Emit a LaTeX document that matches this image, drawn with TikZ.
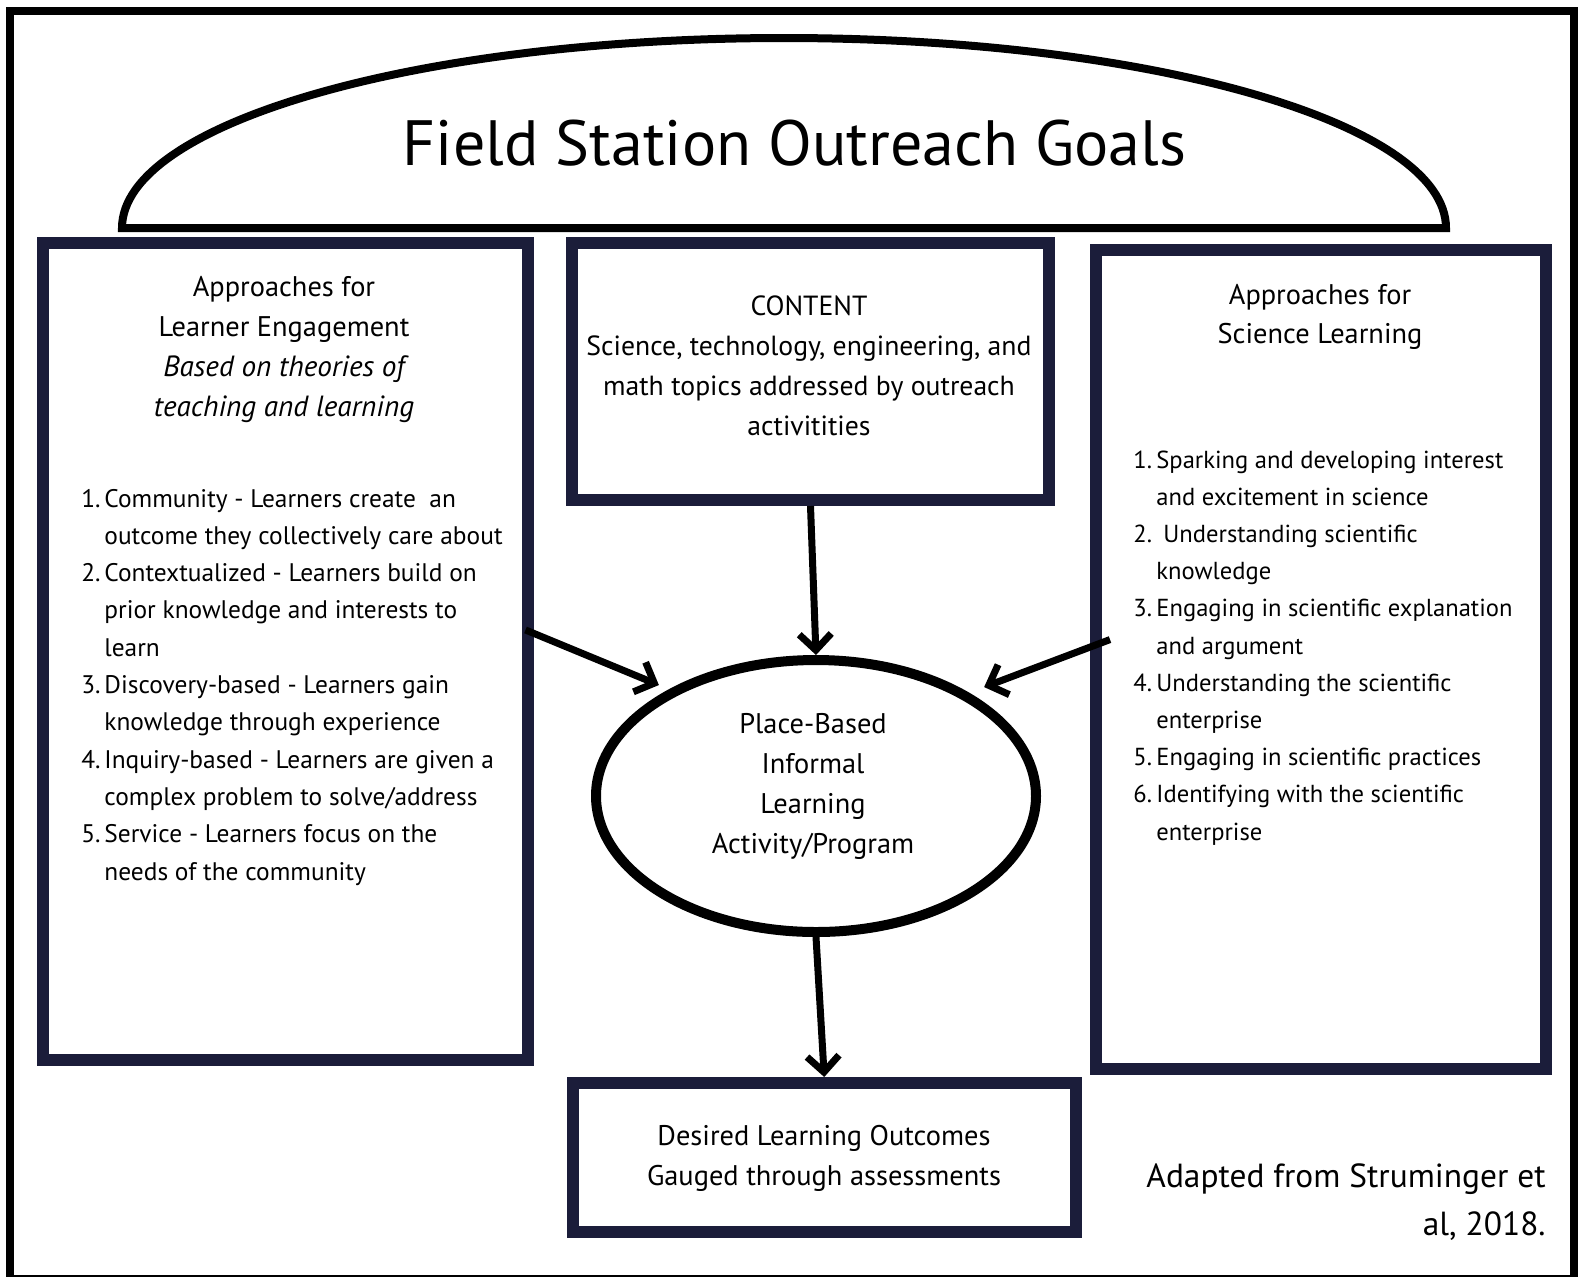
\documentclass[tikz,border=0pt]{standalone}
\usepackage{fontspec}
\setmainfont{PT Sans}
\usetikzlibrary{arrows.meta,shapes.geometric,calc}
\definecolor{navy}{HTML}{1B1D3A}
\newcommand{\itl}{\fontsize{14.6pt}{20pt}\selectfont\itshape}
\begin{document}
\begin{tikzpicture}[x=0.5pt,y=-0.5pt,
  frame/.style={draw=black,line width=4pt},
  navybox/.style={draw=navy,line width=6pt,fill=white,inner sep=0pt,rectangle},
  arr/.style={draw=black,line width=3.5pt,-{Straight Barb[length=8pt,width=16pt,line width=3.5pt]}},
  head/.style={font=\fontsize{14.2pt}{20pt}\selectfont,inner sep=0pt},
  conttext/.style={font=\fontsize{13.85pt}{20pt}\selectfont,inner sep=0pt},
  lstl/.style={font=\fontsize{12.7pt}{18.6pt}\selectfont,inner sep=0pt,anchor=base west},
  lstr/.style={font=\fontsize{12.3pt}{18.6pt}\selectfont,inner sep=0pt,anchor=base west},
]
\useasboundingbox (0,0) rectangle (1580,1276);
\fill[white] (0,0) rectangle (1580,1276);
\draw[frame] (10,11) rectangle (1574,1279);
% dome
\draw[line width=4pt] (122,228) arc[start angle=180,end angle=0,x radius=331pt,y radius=95pt] -- cycle;
\node[font=\fontsize{32pt}{36pt}\selectfont,inner sep=0pt,anchor=base] (title) at (794.5,165) {Field Station Outreach Goals};
% boxes
\node[navybox,minimum width=242.25pt,minimum height=408.5pt] (lbox) at (285.25,651.5) {};
\node[navybox,minimum width=238.5pt,minimum height=128.5pt] (cbox) at (810.5,371.5) {};
\node[navybox,minimum width=225pt,minimum height=409.5pt] (rbox) at (1321,659.5) {};
\node[navybox,minimum width=251.75pt,minimum height=74.25pt] (dbox) at (824.25,1157.25) {};
\node[draw=black,line width=5pt,ellipse,fill=white,minimum width=220pt,minimum height=136pt,inner sep=0pt] (ell) at (816,796) {};
% left heading
\foreach \t [count=\i] in {Approaches for,Learner Engagement,\itl Based on theories of,\itl teaching and learning}
  \node[head,anchor=base] (lh\i) at (284,{296+40*(\i-1)}) {\t};
% left list
\foreach \n/\t [count=\i] in {1./{Community - Learners create~ an},/{outcome they collectively care about},2./{Contextualized - Learners build on},/{prior knowledge and interests to},/{learn},3./{Discovery-based - Learners gain},/{knowledge through experience},4./{Inquiry-based - Learners are given a},/{complex problem to solve/address},5./{Service - Learners focus on the},/{needs of the community}}
  {\node[lstl] (ln\i) at (81,{507+37.3*(\i-1)}) {\n};
   \node[lstl] (lt\i) at (104,{507+37.3*(\i-1)}) {\t};}
% content
\foreach \t [count=\i] in {CONTENT,{Science, technology, engineering, and},math topics addressed by outreach,activitities}
  \node[conttext,anchor=base] (ct\i) at (809,{315+40*(\i-1)}) {\t};
% right heading
\foreach \t [count=\i] in {Approaches for,Science Learning}
  \node[head,anchor=base] (rh\i) at (1320,{304+39.5*(\i-1)}) {\t};
% right list
\foreach \n/\t [count=\i] in {1./{Sparking and developing interest},/{and excitement in science},2./{\hspace*{3.5pt}Understanding scientific},/{knowledge},3./{Engaging in scientific explanation},/{and argument},4./{Understanding the scientific},/{enterprise},5./{Engaging in scientific practices},6./{Identifying with the scientific},/{enterprise}}
  {\node[lstr] (rn\i) at (1133,{468+37.2*(\i-1)}) {\n};
   \node[lstr] (rt\i) at (1156,{468+37.2*(\i-1)}) {\t};}
% ellipse text
\foreach \t [count=\i] in {Place-Based,Informal,Learning,Activity/Program}
  \node[head,anchor=base] (et\i) at (813,{733+40*(\i-1)}) {\t};
% desired
\foreach \t [count=\i] in {Desired Learning Outcomes,Gauged through assessments}
  \node[head,anchor=base] (dt\i) at (824,{1145+40*(\i-1)}) {\t};
% credit
\node[font=\fontsize{16.7pt}{20pt}\selectfont,inner sep=0pt,anchor=base east] (cr1) at (1546,1187) {Adapted from Struminger et};
\node[font=\fontsize{16.7pt}{20pt}\selectfont,inner sep=0pt,anchor=base east] (cr2) at (1546,1235) {al, 2018.};
% arrows
\draw[arr] (cbox.south) -- (ell.north);
\draw[arr,shorten >=5.5pt] ($(lbox.north east)!0.474!(lbox.south east)+(-8,0)$) -- (ell.144);
\draw[arr,shorten >=8pt] ($(rbox.north west)!0.476!(rbox.south west)+(20,0)$) -- (ell.34);
\draw[arr] (ell.south) -- (dbox.north);
\end{tikzpicture}
\end{document}
